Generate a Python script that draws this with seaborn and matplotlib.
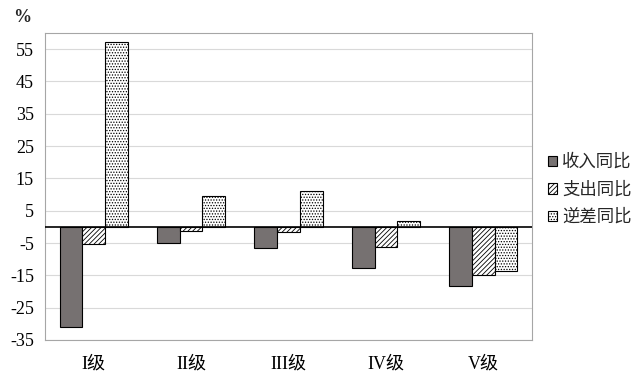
import matplotlib

matplotlib.use("Agg")
import matplotlib.pyplot as plt
import pandas as pd
import seaborn as sns

# values (percent, year on year)
grades = ["I级", "II级", "III级", "IV级", "V级"]
series = ["收入同比", "支出同比", "逆差同比"]
income_yoy = [-31.1, -5.0, -6.4, -12.6, -18.4]
spend_yoy = [-5.3, -1.4, -1.7, -6.1, -15.0]
deficit_yoy = [57.2, 9.7, 11.2, 1.9, -13.6]
y_ticks = [-35, -25, -15, -5, 5, 15, 25, 35, 45, 55]

df = pd.DataFrame({
    "grade": grades * 3,
    "series": [s for s in series for _ in grades],
    "value": income_yoy + spend_yoy + deficit_yoy,
})

sns.set_theme(style="white")
plt.rcParams["font.family"] = ["Liberation Serif", "Noto Sans CJK SC", "DejaVu Sans"]
plt.rcParams["hatch.linewidth"] = 0.6
plt.rcParams["axes.unicode_minus"] = False

fig = plt.figure(figsize=(6.4, 3.83), dpi=100)
ax = fig.add_axes([45 / 640, 1 - 340 / 383, (532 - 45) / 640, (340 - 33) / 383])

sns.barplot(data=df, x="grade", y="value", hue="series", order=grades,
            hue_order=series, width=0.7, legend=False, ax=ax)

styles = [
    dict(facecolor="#767171", hatch=None),
    dict(facecolor="white", hatch="///////"),
    dict(facecolor="white", hatch="......"),
]
for cont, st in zip(ax.containers, styles):
    for p in cont.patches:
        p.set_facecolor(st["facecolor"])
        p.set_edgecolor("black")
        p.set_linewidth(0.8)
        if st["hatch"]:
            p.set_hatch(st["hatch"])

ax.set_ylim(-35, 60)
ax.set_yticks(y_ticks)
ax.yaxis.grid(True, color="#d9d9d9", linewidth=0.8)
ax.set_axisbelow(True)
ax.axhline(0, color="black", linewidth=1.2, zorder=3)
for s in ax.spines.values():
    s.set_color("#a6a6a6")
    s.set_linewidth(0.8)
ax.tick_params(axis="both", length=0, labelsize=13, colors="black")
ax.tick_params(axis="y", pad=8)
ax.tick_params(axis="x", pad=11)
ax.set_xlabel("")
ax.set_ylabel("")

fig.text(13 / 640, 1 - 17 / 383, "%", fontsize=13, fontweight="bold",
         family="Liberation Serif", va="center")

ax.legend(ax.containers, series, loc="center left", bbox_to_anchor=(1.0, 0.49),
          frameon=False, handlelength=0.55, handleheight=0.55,
          handletextpad=0.3, labelspacing=0.55,
          prop={"family": ["Noto Sans CJK SC"], "size": 12.5})

fig.savefig("out.png", dpi=100)
